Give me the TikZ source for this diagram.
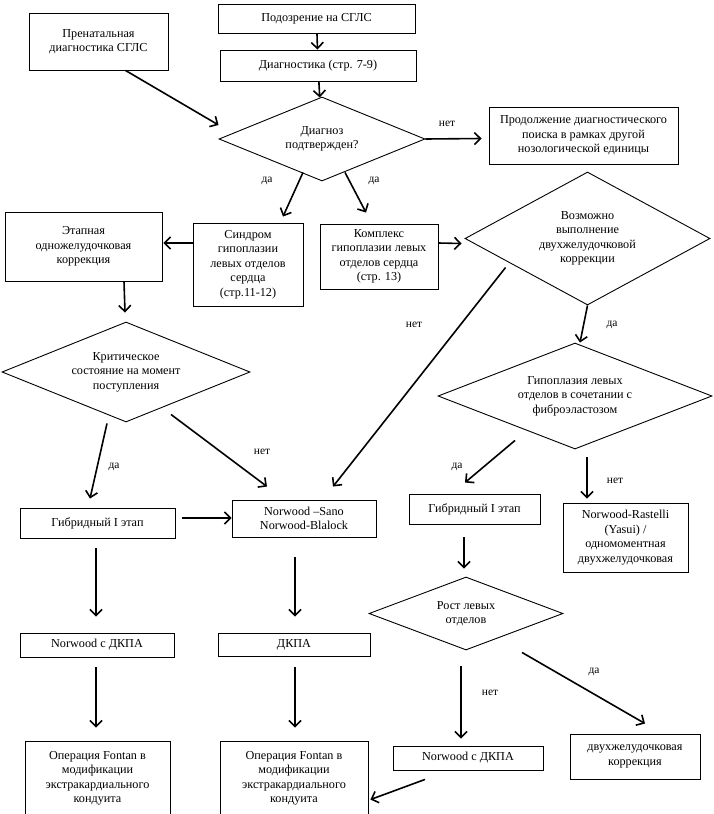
\documentclass[tikz,border=0pt]{standalone}
\usepackage{fontspec}
\setmainfont{Liberation Serif}
\usetikzlibrary{positioning}
\usetikzlibrary{calc}
\usetikzlibrary{shapes.geometric}
\usetikzlibrary{arrows.meta}

\begin{document}
\begin{tikzpicture}[x=1pt, y=-1pt,
    every node/.style={font=\fontsize{12.2}{14.5}\selectfont, align=center},
    box/.style={draw=black, line width=0.9pt, inner sep=0pt},
    decision/.style={draw=black, line width=0.9pt, shape=diamond, inner sep=0pt, aspect=2.5},
    arr/.style={line width=1.6pt, -{Straight Barb[length=6pt, width=12pt, line width=1.6pt]}},
    lbl/.style={font=\fontsize{11.5}{13}\selectfont}]

        % Page frame
        \useasboundingbox (0,0) rectangle (714,814);
        \clip (0,0) rectangle (714,814);

        % Start of the chart
        \node[box, minimum width=197, minimum height=29] (podozr) at (316.5,18.5) {Подозрение на СГЛС};
        \node[box, minimum width=196, minimum height=31] (diagn) at (318,65.5) {Диагностика (стр. 7-9)};
        \node[box, minimum width=139, minimum height=57] (pren) at (98.5,41.5) {Пренатальная\\диагностика СГЛС};
        \node[decision, minimum width=206, minimum height=84] (diag) at (322,139) {Диагноз\\подтвержден?};
        \node[box, minimum width=189, minimum height=57] (prod) at (583.5,135.5) {Продолжение диагностического\\поиска в рамках другой\\нозологической единицы};

        % Two forms of the syndrome
        \node[box, minimum width=110, minimum height=83] (sindr) at (248,264.5) {Синдром\\гипоплазии\\левых отделов\\сердца\\(стр.11-12)};
        \node[box, minimum width=118, minimum height=65] (kompl) at (379,256.5) {Комплекс\\гипоплазии левых\\отделов сердца\\(стр. 13)};
        \node[box, minimum width=157, minimum height=69] (etap) at (83.5,246.5) {Этапная\\одножелудочковая\\коррекция};
        \node[decision, minimum width=248, minimum height=100] (krit) at (126,372) {Критическое\\состояние на момент\\поступления};
        \node[decision, minimum width=245, minimum height=133] (vozm) at (587.5,238.5) {Возможно\\выполнение\\двухжелудочковой\\коррекции};
        \node[decision, minimum width=274, minimum height=106] (gipo) at (575,396) {Гипоплазия левых\\отделов в сочетании с\\фиброэластозом};

        % First stage
        \node[box, minimum width=155, minimum height=30] (hybL) at (97.5,523) {Гибридный I этап};
        \node[box, minimum width=144, minimum height=37] (norsano) at (304,518.5) {Norwood –Sano\\Norwood-Blalock};
        \node[box, minimum width=131, minimum height=30] (hybR) at (474.5,509) {Гибридный I этап};
        \node[box, minimum width=125, minimum height=69] (rast) at (625.5,537.5) {Norwood-Rastelli\\(Yasui) /\\одномоментная\\двухжелудочковая};
        \node[decision, minimum width=194, minimum height=73] (rost) at (466,613.5) {Рост левых\\отделов};

        % Later stages
        \node[box, minimum width=154, minimum height=24] (nordkpaL) at (97,645) {Norwood с ДКПА};
        \node[box, minimum width=152, minimum height=23] (dkpa) at (294,644.5) {ДКПА};
        \node[box, minimum width=150, minimum height=24] (nordkpaR) at (468,758) {Norwood с ДКПА};
        \node[box, minimum width=130, minimum height=45] (dvuh) at (635,756.5) {двухжелудочковая\\коррекция};
        \node[box, minimum width=145, minimum height=75] (fontanL) at (97.5,778.5) {Операция Fontan в\\модификации\\экстракардиального\\кондуита};
        \node[box, minimum width=148, minimum height=75] (fontanR) at (294,778.5) {Операция Fontan в\\модификации\\экстракардиального\\кондуита};

        % Arrows of the upper part
        \draw[arr] (podozr) -- (diagn);
        \draw[arr] (diagn) -- (diag);
        \draw[arr] ($(pren.south)+(27,0)$) -- ($(diag.west)+(0,-14)$);
        \draw[arr] (diag.east) -- ($(prod.west)+(-7,3)$);
        \draw[arr] ($(diag.south)+(-19,-9)$) -- ($(sindr.north)+(35,-6)$);
        \draw[arr] ($(diag.south)+(23,-9)$) -- ($(kompl.north)+(-13,-11)$);
        \draw[arr] ($(sindr.west)+(0,-21.5)$) -- ($(etap.east)+(1,-3.5)$);
        \draw[arr] ($(etap.south)+(40.5,0)$) -- ($(krit.north)+(-1,-9)$);
        \draw[arr] ($(kompl.east)+(0,-13.5)$) -- ($(vozm.west)+(-3,5)$);
        \draw[arr] ($(vozm.west)+(41,29)$) -- ($(norsano.north)+(29,-13)$);
        \draw[arr] (vozm.south) -- ($(gipo.north)+(5,0)$);

        % Arrows of the lower part
        \draw[arr] ($(krit.south)+(-19,1)$) -- ($(hybL.north)+(-7.5,-9)$);
        \draw[arr] ($(krit.south)+(45,-8)$) -- ($(norsano.north)+(-37,-13)$);
        \draw[arr] ($(gipo.south)+(-60,-9)$) -- ($(hybR.north)+(-9.5,-11)$);
        \draw[arr] ($(gipo.south)+(12,8)$) -- ($(rast.north)+(-38.5,-4)$);
        \draw[arr] ($(hybL.east)+(7,-5)$) -- ($(norsano.west)+(0,-0.5)$);
        \draw[arr] ($(hybL.south)+(-1.5,10)$) -- ($(nordkpaL.north)+(-1,-16)$);
        \draw[arr] ($(norsano.south)+(-9,20)$) -- ($(dkpa.north)+(1,-16)$);
        \draw[arr] ($(nordkpaL.south)+(-1,10)$) -- ($(fontanL.north)+(-1.5,-13)$);
        \draw[arr] ($(dkpa.south)+(1,11)$) -- ($(fontanR.north)+(1,-13)$);
        \draw[arr] ($(hybR.south)+(-10.5,13)$) -- ($(rost.north)+(-2,-8)$);
        \draw[arr] ($(rost.south)+(-5,16)$) -- ($(nordkpaR.north)+(-7,-7)$);
        \draw[arr] ($(rost.south)+(56,2)$) -- ($(dvuh.north)+(10,-10)$);
        \draw[arr] ($(nordkpaR.south)+(-43,9)$) -- ($(fontanR.north east)+(2,59)$);

        % Answers
        \node[lbl] (n1) at (447,124) {нет};
        \node[lbl] (y1) at (267,181) {да};
        \node[lbl] (y2) at (374,181) {да};
        \node[lbl] (n2) at (414,325) {нет};
        \node[lbl] (y3) at (612,325) {да};
        \node[lbl] (y4) at (114,467) {да};
        \node[lbl] (n3) at (262,452) {нет};
        \node[lbl] (y5) at (457,467) {да};
        \node[lbl] (n4) at (615,481) {нет};
        \node[lbl] (n5) at (490,693) {нет};
        \node[lbl] (y6) at (594,672) {да};

      \end{tikzpicture}
\end{document}
